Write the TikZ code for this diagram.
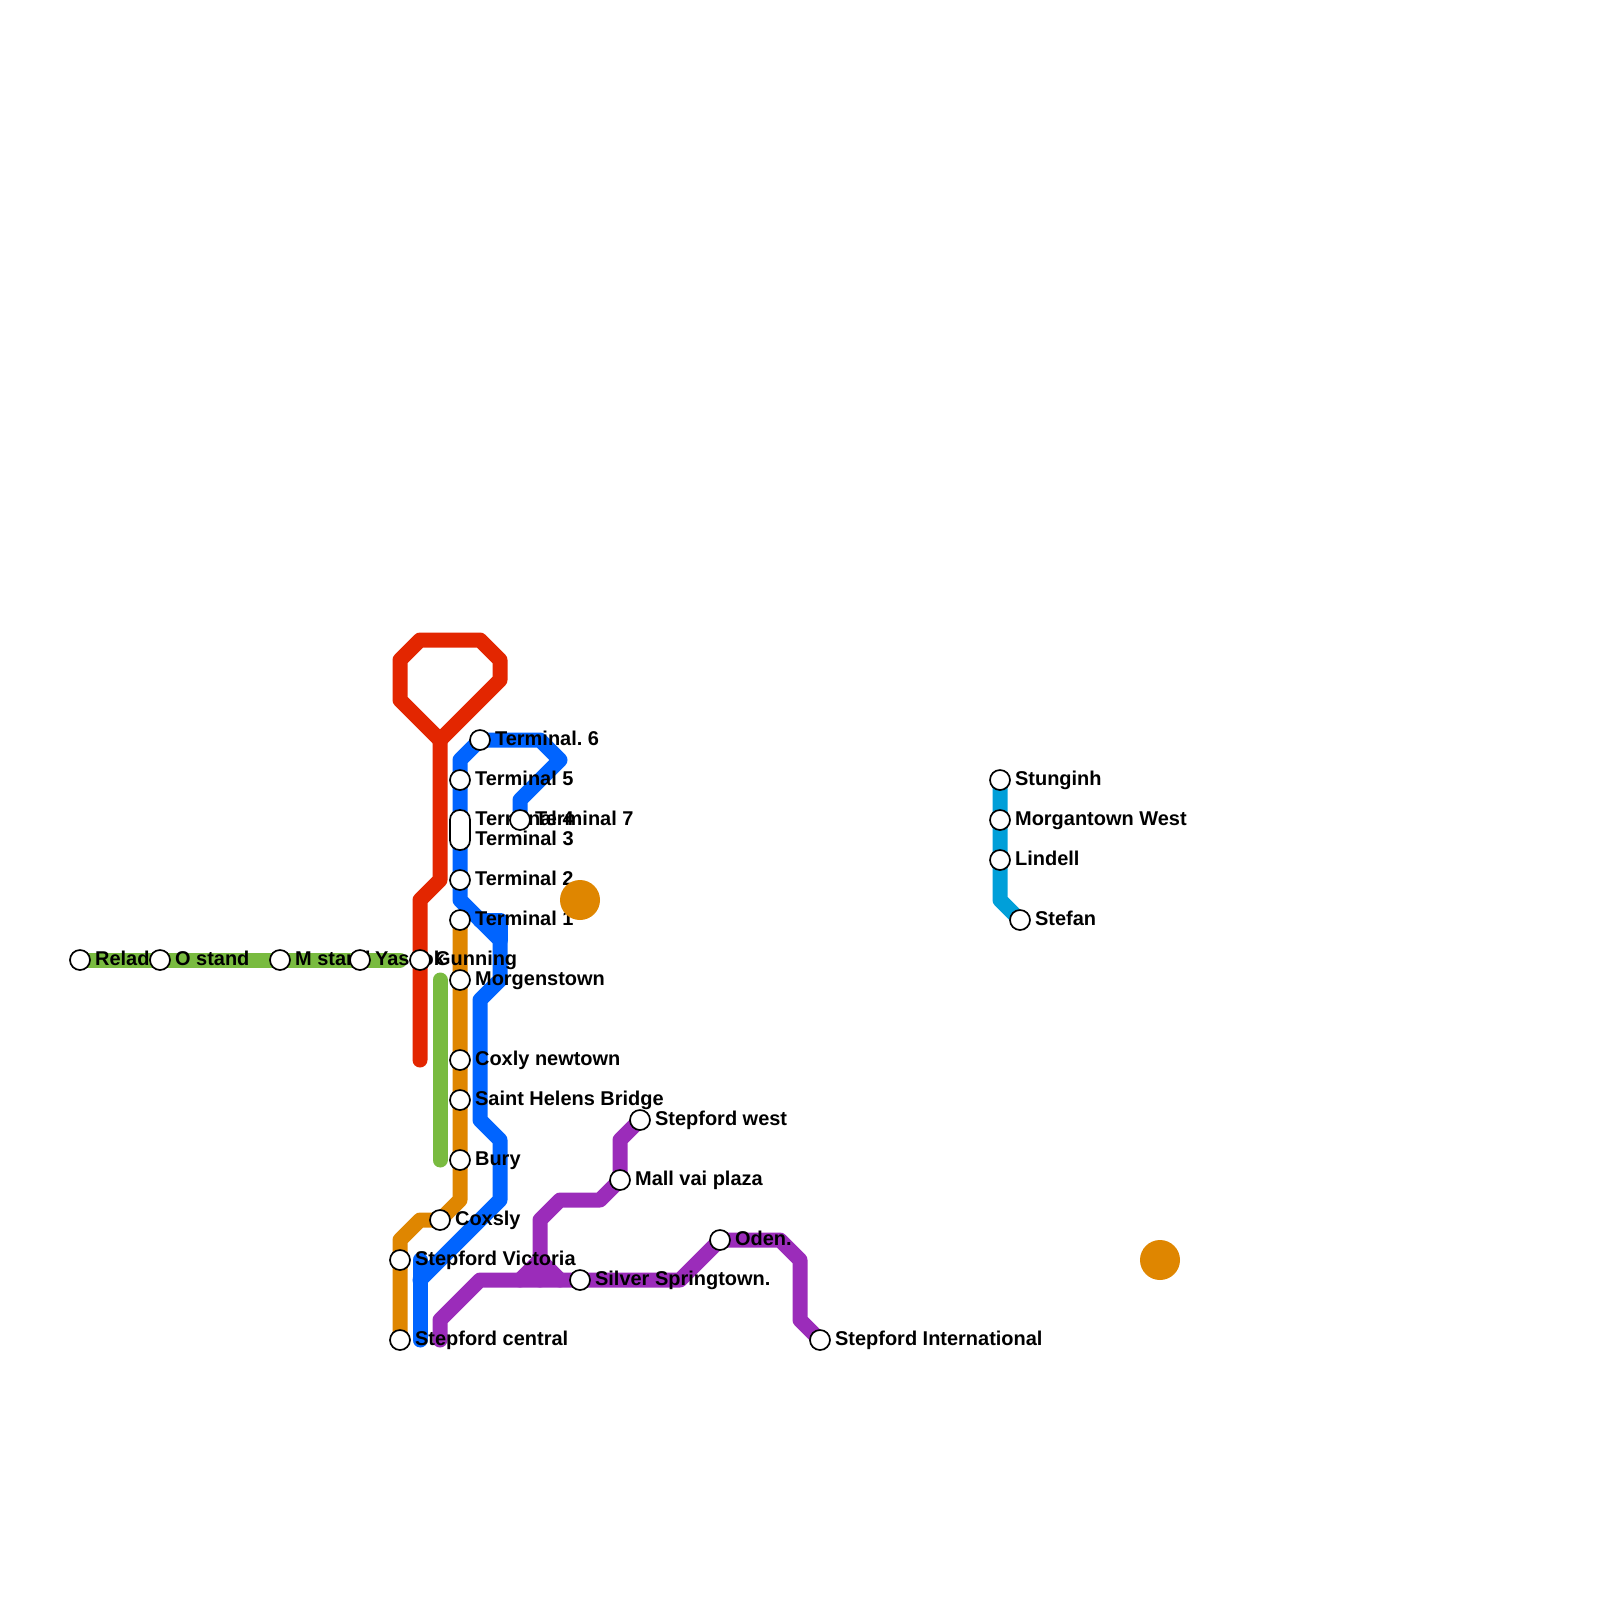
\documentclass[tikz,border=0pt]{standalone}
\usepackage{fontspec}
\setmainfont{Liberation Sans}
\usetikzlibrary{positioning}
\definecolor{redline}{HTML}{E32600}
\definecolor{blueline}{HTML}{0064FF}
\definecolor{orangeline}{HTML}{DF8600}
\definecolor{greenline}{HTML}{79BB40}
\definecolor{purpleline}{HTML}{9B2CBA}
\definecolor{skyline}{HTML}{009FD9}
\pgfdeclarelayer{lines}
\pgfdeclarelayer{names}
\pgfsetlayers{lines,names,main}

\begin{document}
\begin{tikzpicture}[
  x=0.5cm, y=-0.5cm,
  stn/.style={draw, fill=white, circle, line width=1.2pt, minimum size=0.5cm, inner sep=0pt},
  lbl/.style={font=\fontsize{14.2}{14.2}\selectfont\bfseries, inner sep=0pt, anchor=west,
              text height=0.26cm, text depth=0.06cm, yshift=-0.9pt},
  route/.style={line width=0.375cm, line cap=round, line join=round}
]
  \useasboundingbox (0,0) rectangle (80,80);

  % stations
  \node[stn] (relad)  at (4,48)  {};
  \node[stn] (ostand) at (8,48)  {};
  \node[stn] (mstand) at (14,48) {};
  \node[stn] (yasook)  at (18,48) {};
  \node[stn] (gunning) at (21,48) {};
  \node[stn] (term6) at (24,37) {};
  \node[stn] (term5) at (23,39) {};
  \node[stn, rounded corners=0.24cm, circle=false, rectangle, minimum width=0.5cm, minimum height=1cm] (term43) at (23,41.5) {};
  \node[stn] (term7) at (26,41) {};
  \node[stn] (term2) at (23,44) {};
  \node[stn] (term1) at (23,46) {};
  \node[stn] (morgen) at (23,49) {};
  \node[stn] (coxlynew) at (23,53) {};
  \node[stn] (sainth) at (23,55) {};
  \node[stn] (bury) at (23,58) {};
  \node[stn] (coxsly) at (22,61) {};
  \node[stn] (stepvic) at (20,63) {};
  \node[stn] (stepcen) at (20,67) {};
  \node[stn] (stepwest) at (32,56) {};
  \node[stn] (mall) at (31,59) {};
  \node[stn] (silver) at (29,64) {};
  \node[stn] (oden) at (36,62) {};
  \node[stn] (stepint) at (41,67) {};
  \node[stn] (stung) at (50,39) {};
  \node[stn] (morgwest) at (50,41) {};
  \node[stn] (lindell) at (50,43) {};
  \node[stn] (stefan) at (51,46) {};

  % interchange dots
  \node[circle, fill=orangeline, minimum size=1cm, inner sep=0pt] (dota) at (29,45) {};
  \node[circle, fill=orangeline, minimum size=1cm, inner sep=0pt] (dotb) at (58,63) {};

  % bends
  \coordinate (r1) at (21,32);  \coordinate (r2) at (24,32);
  \coordinate (r3) at (25,33);  \coordinate (r4) at (25,34);
  \coordinate (r5) at (22,37);  \coordinate (r6) at (20,35);
  \coordinate (r7) at (20,33);  \coordinate (r8) at (22,44);
  \coordinate (r9) at (21,45);  \coordinate (r10) at (21,53);
  \coordinate (b1) at (23,38);  \coordinate (b2) at (23,45);
  \coordinate (b3) at (25,47);  \coordinate (b4) at (25,49);
  \coordinate (b5) at (24,50);  \coordinate (b6) at (24,56);
  \coordinate (b7) at (25,57);  \coordinate (b8) at (25,60);
  \coordinate (b9) at (21,64);  \coordinate (b10) at (21,67);
  \coordinate (b11) at (21,63); \coordinate (b12) at (27,37);
  \coordinate (b13) at (28,38); \coordinate (b14) at (26,40);
  \coordinate (b15) at (24,46); \coordinate (b16) at (25,46);
  \coordinate (o1) at (23,60);  \coordinate (o2) at (21,61);
  \coordinate (o3) at (20,62);
  \coordinate (g1) at (20,48);  \coordinate (g2) at (22,49);
  \coordinate (g3) at (22,58);
  \coordinate (p1) at (22,67);  \coordinate (p2) at (22,66);
  \coordinate (p3) at (24,64);  \coordinate (p4) at (34,64);
  \coordinate (p5) at (39,62);  \coordinate (p6) at (40,63);
  \coordinate (p7) at (40,66);  \coordinate (p8) at (31,57);
  \coordinate (p9) at (30,60);  \coordinate (p10) at (28,60);
  \coordinate (p11) at (27,61); \coordinate (p12) at (27,64);
  \coordinate (p13) at (26,64); \coordinate (p14) at (27,63);
  \coordinate (p15) at (28,64);
  \coordinate (s1) at (50,45);

  \begin{pgfonlayer}{lines}
    \draw[route, greenline] (relad.center) -- (g1);
    \draw[route, greenline] (g2) -- (g3);
    \draw[route, orangeline] (term1.center) -- (o1) -- (coxsly.center) -- (o2) -- (o3) -- (stepcen.center);
    \draw[route, redline] (r5) -- (r6) -- (r7) -- (r1) -- (r2) -- (r3) -- (r4) -- cycle;
    \draw[route, redline] (r5) -- (r8) -- (r9) -- (r10);
    \draw[route, blueline] (term7.center) -- (b14) -- (b13) -- (b12) -- (term6.center) -- (b1) -- (b2) -- (b3) -- (b4) -- (b5) -- (b6) -- (b7) -- (b8) -- (b9);
    \draw[route, blueline] (b15) -- (b16) -- (b3);
    \draw[route, blueline] (b11) -- (b10);
    \draw[route, purpleline] (p1) -- (p2) -- (p3) -- (p4) -- (oden.center) -- (p5) -- (p6) -- (p7) -- (stepint.center);
    \draw[route, purpleline] (stepwest.center) -- (p8) -- (mall.center) -- (p9) -- (p10) -- (p11) -- (p12);
    \draw[route, purpleline] (p13) -- (p14) -- (p15);
    \draw[route, skyline] (stung.center) -- (s1) -- (stefan.center);
  \end{pgfonlayer}

  % station names
  \begin{pgfonlayer}{names}
    \node[lbl, right=0.1cm of relad]  (nrelad)  {Relad};
    \node[lbl, right=0.1cm of ostand] (nostand) {O stand};
    \node[lbl, right=0.1cm of mstand] (nmstand) {M stand};
    \node[lbl, right=0.1cm of yasook]  (nyasook)  {Yasook};
    \node[lbl, right=0.1cm of gunning] (ngunning) {Gunning};
    \node[lbl, right=0.1cm of term6] (nterm6) {Terminal.\ 6};
    \node[lbl, right=0.1cm of term5] (nterm5) {Terminal 5};
    \node[lbl, right=0.1cm of term7] (nterm7) {Terminal 7};
    \node[lbl] (nterm4) at (23.75,41) {Terminal 4};
    \node[lbl] (nterm3) at (23.75,42) {Terminal 3};
    \node[lbl, right=0.1cm of term2] (nterm2) {Terminal 2};
    \node[lbl, right=0.1cm of term1] (nterm1) {Terminal 1};
    \node[lbl, right=0.1cm of morgen] (nmorgen) {Morgenstown};
    \node[lbl, right=0.1cm of coxlynew] (ncoxlynew) {Coxly newtown};
    \node[lbl, right=0.1cm of sainth] (nsainth) {Saint Helens Bridge};
    \node[lbl, right=0.1cm of bury] (nbury) {Bury};
    \node[lbl, right=0.1cm of coxsly] (ncoxsly) {Coxsly};
    \node[lbl, right=0.1cm of stepvic] (nstepvic) {Stepford Victoria};
    \node[lbl, right=0.1cm of stepcen] (nstepcen) {Stepford central};
    \node[lbl, right=0.1cm of stepwest] (nstepwest) {Stepford west};
    \node[lbl, right=0.1cm of mall] (nmall) {Mall vai plaza};
    \node[lbl, right=0.1cm of silver] (nsilver) {Silver Springtown.};
    \node[lbl, right=0.1cm of oden] (noden) {Oden.};
    \node[lbl, right=0.1cm of stepint] (nstepint) {Stepford International};
    \node[lbl, right=0.1cm of stung] (nstung) {Stunginh};
    \node[lbl, right=0.1cm of morgwest] (nmorgwest) {Morgantown West};
    \node[lbl, right=0.1cm of lindell] (nlindell) {Lindell};
    \node[lbl, right=0.1cm of stefan] (nstefan) {Stefan};
  \end{pgfonlayer}
\end{tikzpicture}
\end{document}
